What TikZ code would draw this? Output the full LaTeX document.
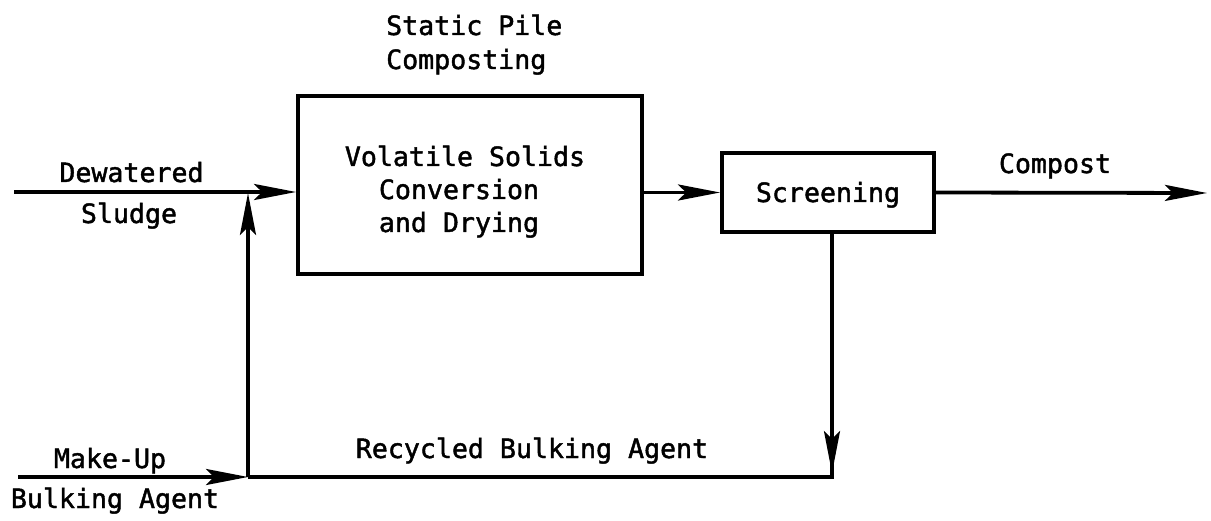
\documentclass[tikz,border=0pt]{standalone}
\usepackage{fontspec}
\setmonofont[FakeBold=1.6]{DejaVu Sans Mono}
\usetikzlibrary{arrows.meta}
\tikzset{
  lbl/.style={font=\ttfamily\fontsize{26.6}{33}\selectfont, inner sep=0pt, anchor=base},
  boxnode/.style={draw, line width=3.8pt, inner sep=0pt},
  flow/.style={line width=3.8pt, -{Stealth[length=42pt,width=16pt,inset=8pt]}},
  plain/.style={line width=3.8pt}
}
\begin{document}
\begin{tikzpicture}[x=1pt,y=-1pt]
\useasboundingbox (0,0) rectangle (1211,521);
% boxes
\node[boxnode, minimum width=344pt, minimum height=178pt] (main) at (470,185) {};
\node[boxnode, minimum width=212pt, minimum height=79pt] (screen) at (828,192.5) {};
% box texts
\node[lbl] (vs) at (465,166) {Volatile Solids};
\node[lbl] (cv) at (459,199) {Conversion};
\node[lbl] (ad) at (459,232) {and Drying};
\node[lbl] (sc) at (828,202) {Screening};
% title
\node[lbl, anchor=base west] (sp) at (386,35) {Static Pile};
\node[lbl, anchor=base west] (cp) at (386,69) {Composting};
% stream labels
\node[lbl] (dw) at (131.5,182) {Dewatered};
\node[lbl] (sl) at (129,223) {Sludge};
\node[lbl] (mu) at (110,468) {Make-Up};
\node[lbl] (ba) at (115,508) {Bulking Agent};
\node[lbl] (rb) at (532,458) {Recycled Bulking Agent};
\node[lbl] (co) at (1055,173) {Compost};
% coordinates
\coordinate (dsin) at (14,192);
\coordinate (j1) at (248,193);
\coordinate (j2) at (248,477);
\coordinate (muin) at (18,477);
\coordinate (r1) at (832,477);
\coordinate (r1a) at (832,473);
\coordinate (cout) at (1207,193);
% connectors
\draw[flow] (dsin) -- (dsin -| main.west);
\draw[flow] (muin) -- (j2);
\draw[flow] (j2) -- (j1);
\draw[flow] (screen.west -| main.east) -- (screen.west);
\draw[flow] (screen.east) -- (cout);
\draw[plain] (screen.south -| r1) -- (r1) -- (j2);
\draw[flow] (screen.south -| r1) -- (r1a);
\end{tikzpicture}
\end{document}
